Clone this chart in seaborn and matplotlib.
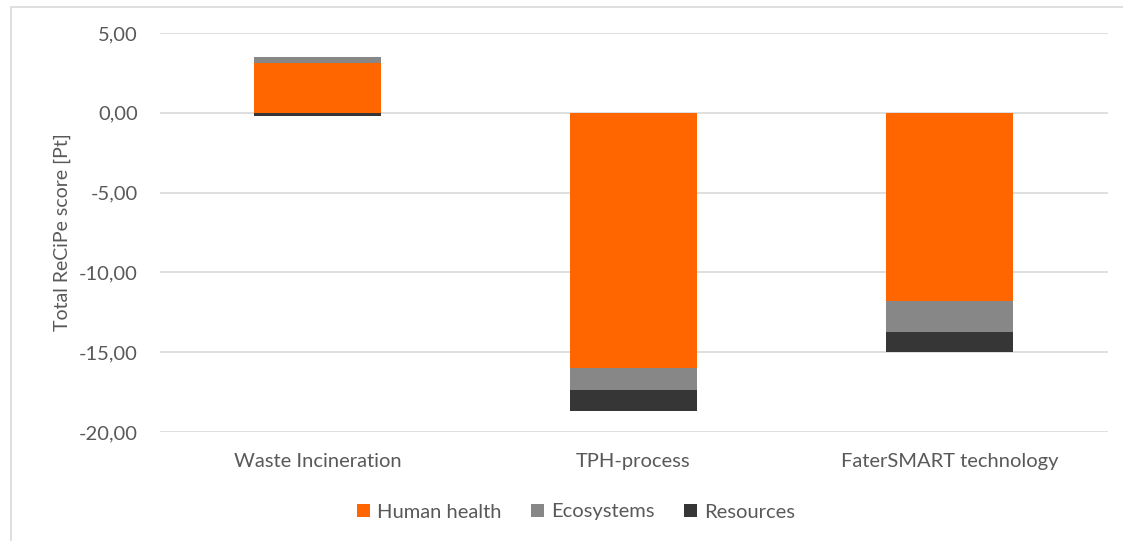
import matplotlib
matplotlib.use("Agg")
import matplotlib.pyplot as plt
import seaborn as sns
import numpy as np
import pandas as pd
from matplotlib.patches import Rectangle

categories = ["Waste Incineration", "TPH-process", "FaterSMART technology"]
series_names = ["Human health", "Ecosystems", "Resources"]
human_health = [3.15, -16.00, -11.77]
ecosystems = [0.32, -1.37, -1.94]
resources = [-0.17, -1.29, -1.27]
y_ticks = [5, 0, -5, -10, -15, -20]
y_label = "Total ReCiPe score [Pt]"

colors = ["#FF6600", "#878787", "#363636"]
text_color = "#595959"
grid_color = "#D9D9D9"

sns.set_theme(style="white")
plt.rcParams["font.family"] = ["Lato", "DejaVu Sans"]

fig = plt.figure(figsize=(11.23, 5.41), dpi=100)
ax = fig.add_axes([159.5 / 1123, 1 - 432 / 541, (1107.5 - 159.5) / 1123, (432 - 33) / 541])

values = [human_health, ecosystems, resources]
pos_bottom = np.zeros(len(categories))
neg_bottom = np.zeros(len(categories))
for name, vals, col in zip(series_names, values, colors):
    vals = np.array(vals, dtype=float)
    bottoms = np.where(vals >= 0, pos_bottom, neg_bottom)
    df = pd.DataFrame({"category": categories, "value": vals})
    sns.barplot(data=df, x="category", y="value", order=categories, color=col,
                width=0.4, bottom=bottoms, ax=ax, label=name, saturation=1,
                linewidth=0, zorder=3)
    pos_bottom = pos_bottom + np.where(vals >= 0, vals, 0)
    neg_bottom = neg_bottom + np.where(vals < 0, vals, 0)

ax.set_xlim(-0.5, 2.5)
ax.set_ylim(-20, 5)
ax.set_yticks(y_ticks)
ax.set_yticklabels([f"{v:.2f}".replace(".", ",") for v in y_ticks])
ax.yaxis.grid(True, color=grid_color, linewidth=1.2, zorder=0)
ax.set_axisbelow(True)
for s in ax.spines.values():
    s.set_visible(False)
ax.tick_params(axis="both", length=0, labelsize=14.5, colors=text_color)
ax.tick_params(axis="y", pad=15.5)
ax.tick_params(axis="x", pad=15)
ax.set_xlabel("")
ax.set_ylabel(y_label, fontsize=14, color=text_color, labelpad=6)

handles, labels = ax.get_legend_handles_labels()
leg = fig.legend(handles, labels, loc="center", bbox_to_anchor=(576 / 1123, 1 - 512 / 541),
                 ncol=3, frameon=False, fontsize=14.5, handlelength=0.65, handleheight=0.65,
                 handletextpad=0.35, columnspacing=1.45)
for t in leg.get_texts():
    t.set_color(text_color)
if ax.legend_:
    ax.legend_.remove()

fig.patches.append(Rectangle((11 / 1123, -0.05), 1.2, 1 - 6.5 / 541 + 0.05,
                             transform=fig.transFigure, fill=False,
                             edgecolor=grid_color, linewidth=1.2))

fig.savefig("out.png", dpi=100)
